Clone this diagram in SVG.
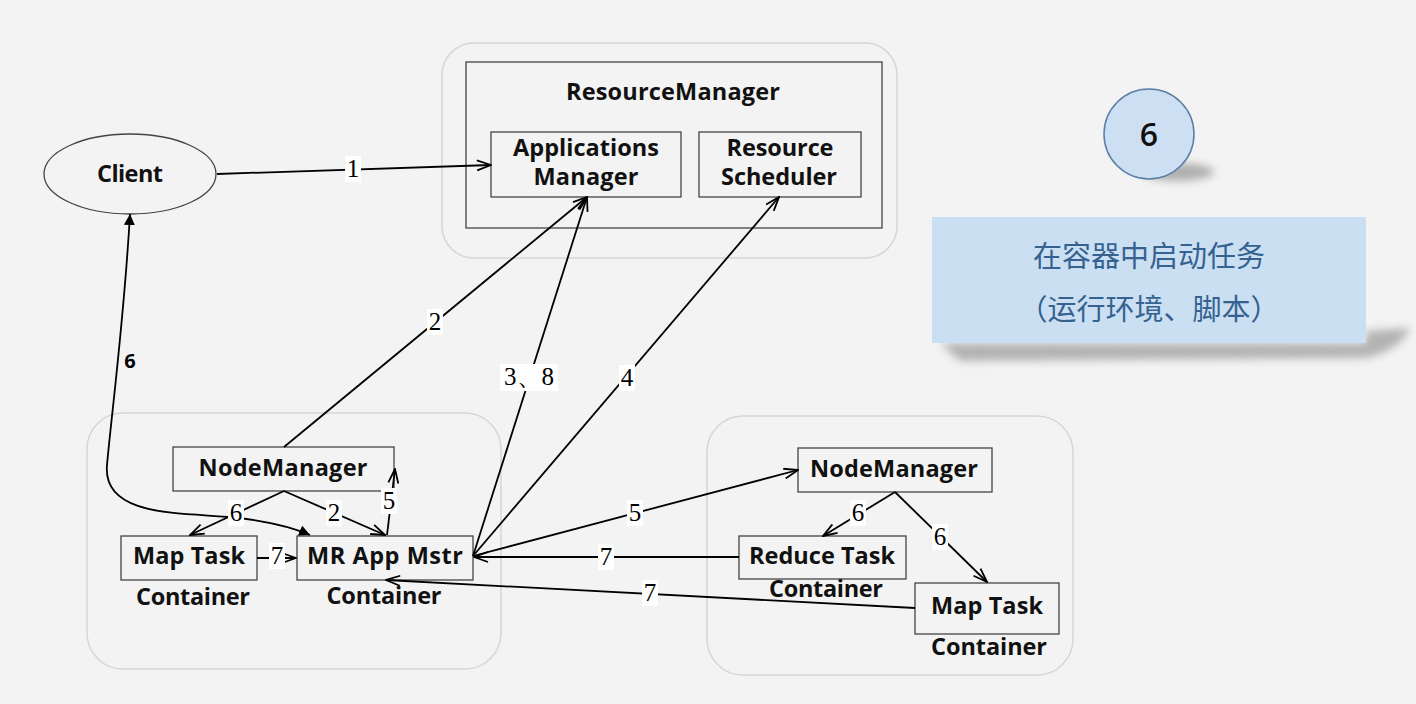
<svg xmlns="http://www.w3.org/2000/svg" width="1416" height="704" viewBox="0 0 1416 704">
<defs>
<style>
.bg{fill:#f3f3f3}
.cont{fill:#f3f3f3;stroke:#d6d6d6;stroke-width:1.5}
.box{fill:#f3f3f3;stroke:#444;stroke-width:1.3}
.t{font-family:"Open Sans","Liberation Sans",sans-serif;font-weight:bold;font-size:23.5px;fill:#111;text-anchor:middle}
.ln{fill:none;stroke:#000;stroke-width:1.8}
.lb{font-family:"Liberation Serif",serif;font-size:25px;fill:#000;text-anchor:middle}
.lbbg{fill:#fff}
.cn{font-family:"Noto Sans CJK SC",sans-serif;font-size:29px;fill:#35628f;text-anchor:middle}
</style>
<marker id="open" viewBox="0 0 16 12" refX="15" refY="6" markerWidth="16" markerHeight="12" markerUnits="userSpaceOnUse" orient="auto"><path d="M1,1 L15,6 L1,11" fill="none" stroke="#000" stroke-width="1.8"/></marker>
<marker id="solid" viewBox="0 0 10 10" refX="10" refY="5" markerWidth="11" markerHeight="11" markerUnits="userSpaceOnUse" orient="auto-start-reverse"><path d="M0,0 L10,5 L0,10 z" fill="#000"/></marker>
<filter id="blur" x="-20%" y="-50%" width="140%" height="200%"><feGaussianBlur stdDeviation="4"/></filter>
</defs>
<rect class="bg" x="0" y="0" width="1416" height="704"/>

<g id="rm-group">
<rect class="cont" x="442" y="43" width="455" height="215" rx="32"/>
<rect class="box" x="466" y="62" width="416" height="166"/>
<text class="t" x="673" y="100" textLength="214" lengthAdjust="spacing">ResourceManager</text>
</g>
<g id="applications-manager">
<rect class="box" x="491" y="132" width="190" height="65"/>
<text class="t" x="586" y="156" textLength="146" lengthAdjust="spacing">Applications</text>
<text class="t" x="586" y="185" textLength="105" lengthAdjust="spacing">Manager</text>
</g>
<g id="resource-scheduler">
<rect class="box" x="699" y="132" width="162" height="65"/>
<text class="t" x="780" y="156" textLength="107" lengthAdjust="spacing">Resource</text>
<text class="t" x="779" y="185" textLength="116" lengthAdjust="spacing">Scheduler</text>
</g>
<g id="client">
<ellipse cx="130" cy="174" rx="86" ry="40" fill="#f3f3f3" stroke="#444" stroke-width="1.3"/>
<text class="t" x="130" y="182" textLength="66" lengthAdjust="spacing">Client</text>
</g>

<g id="left-node">
<rect class="cont" x="87" y="413" width="414" height="256" rx="36"/>
</g>
<g id="left-nodemanager">
<rect class="box" x="173" y="447" width="221" height="44"/>
<text class="t" x="283" y="476" textLength="169" lengthAdjust="spacing">NodeManager</text>
</g>
<g id="left-maptask">
<rect class="box" x="121" y="536" width="136" height="44"/>
<text class="t" x="189" y="564" textLength="112" lengthAdjust="spacing">Map Task</text>
<text class="t" x="193" y="605" textLength="114" lengthAdjust="spacing">Container</text>
</g>
<g id="mr-app-master">
<rect class="box" x="297" y="536" width="176" height="44"/>
<text class="t" x="385" y="564" textLength="156" lengthAdjust="spacing">MR App Mstr</text>
<text class="t" x="384" y="604" textLength="115" lengthAdjust="spacing">Container</text>
</g>

<g id="right-node">
<rect class="cont" x="707" y="416" width="366" height="259" rx="36"/>
</g>
<g id="right-nodemanager">
<rect class="box" x="798" y="448" width="194" height="44"/>
<text class="t" x="894" y="477" textLength="168" lengthAdjust="spacing">NodeManager</text>
</g>
<g id="reduce-task">
<rect class="box" x="739" y="536" width="167" height="43"/>
<text class="t" x="822" y="564" textLength="146" lengthAdjust="spacing">Reduce Task</text>
<text class="t" x="826" y="597" textLength="114" lengthAdjust="spacing">Container</text>
</g>
<g id="right-maptask">
<rect class="box" x="915" y="583" width="144" height="51"/>
<text class="t" x="987" y="614" textLength="112" lengthAdjust="spacing">Map Task</text>
<text class="t" x="989" y="655" textLength="116" lengthAdjust="spacing">Container</text>
</g>

<g id="step-badge">
<ellipse cx="1178" cy="172" rx="36" ry="9" fill="#777" opacity="0.55" filter="url(#blur)"/>
<circle cx="1149" cy="134" r="45" fill="#cde0f3" stroke="#5a7ea6" stroke-width="1.5"/>
<text x="1149" y="146" font-family="'Open Sans',Lato,sans-serif" font-weight="600" font-size="32" fill="#111" text-anchor="middle">6</text>
</g>
<g id="step-caption">
<path d="M940,343 L1366,343 L1366,331 L1410,328 Q1400,350 1366,358 L960,361 Z" fill="#888" opacity="0.6" filter="url(#blur)"/>
<rect x="932" y="217" width="434" height="126" fill="#cbdff3"/>
<text class="cn" x="1149" y="267">在容器中启动任务</text>
<text class="cn" x="1149" y="320">（运行环境、脚本）</text>
</g>

<g id="connectors">
<line class="ln" x1="217" y1="174" x2="491" y2="165" marker-end="url(#open)"/>
<line class="ln" x1="284" y1="447" x2="587" y2="197" marker-end="url(#open)"/>
<line class="ln" x1="473" y1="556" x2="587" y2="197" marker-end="url(#open)"/>
<line class="ln" x1="473" y1="556" x2="779" y2="197" marker-end="url(#open)"/>
<line class="ln" x1="473" y1="556" x2="798" y2="470" marker-end="url(#open)"/>
<line class="ln" x1="739" y1="557" x2="474" y2="557" marker-end="url(#open)"/>
<line class="ln" x1="915" y1="608" x2="386" y2="580" marker-end="url(#open)"/>
<line class="ln" x1="284" y1="491" x2="190" y2="535" marker-end="url(#open)"/>
<line class="ln" x1="284" y1="491" x2="385" y2="535" marker-end="url(#open)"/>
<line class="ln" x1="387" y1="535" x2="395" y2="469" marker-end="url(#open)"/>
<line class="ln" x1="257" y1="558" x2="296" y2="558" marker-end="url(#open)"/>
<line class="ln" x1="895" y1="492" x2="823" y2="536" marker-end="url(#open)"/>
<line class="ln" x1="895" y1="492" x2="987" y2="582" marker-end="url(#open)"/>
<path class="ln" stroke-width="1.5" d="M130,214 C124,320 112,410 107,465 C102,520 190,512 240,518 Q285,524 310,535" marker-start="url(#solid)" marker-end="url(#solid)"/>

<rect class="lbbg" x="345" y="156" width="16" height="26"/><text class="lb" x="353" y="177">1</text>
<rect class="lbbg" x="427" y="309" width="16" height="26"/><text class="lb" x="435" y="330">2</text>
<rect class="lbbg" x="500" y="364" width="58" height="27"/><text class="lb" x="529" y="385">3、8</text>
<rect class="lbbg" x="619" y="365" width="16" height="26"/><text class="lb" x="627" y="386">4</text>
<rect class="lbbg" x="627" y="500" width="16" height="26"/><text class="lb" x="635" y="521">5</text>
<rect class="lbbg" x="598" y="544" width="16" height="26"/><text class="lb" x="606" y="565">7</text>
<rect class="lbbg" x="642" y="580" width="16" height="26"/><text class="lb" x="650" y="601">7</text>
<rect class="lbbg" x="228" y="500" width="16" height="26"/><text class="lb" x="236" y="521">6</text>
<rect class="lbbg" x="326" y="500" width="16" height="26"/><text class="lb" x="334" y="521">2</text>
<rect class="lbbg" x="381" y="488" width="16" height="26"/><text class="lb" x="389" y="509">5</text>
<rect class="lbbg" x="269" y="543" width="16" height="26"/><text class="lb" x="277" y="564">7</text>
<rect class="lbbg" x="850" y="500" width="16" height="26"/><text class="lb" x="858" y="521">6</text>
<rect class="lbbg" x="932" y="524" width="16" height="26"/><text class="lb" x="940" y="545">6</text>
<text x="130" y="368" font-family="'Open Sans','Liberation Sans',sans-serif" font-weight="bold" font-size="20" fill="#000" text-anchor="middle">6</text>
</g>
</svg>
